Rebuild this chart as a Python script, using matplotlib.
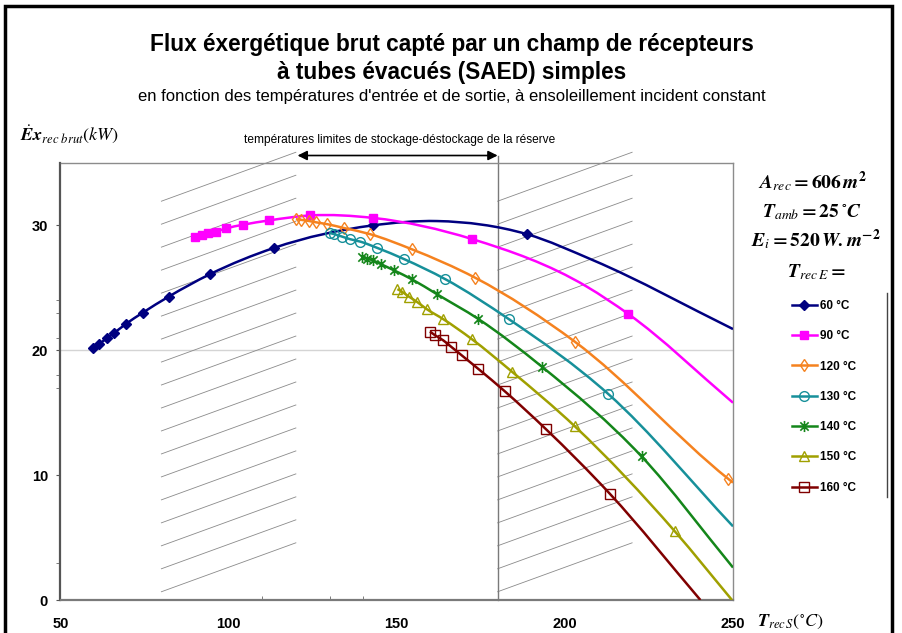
import numpy as np
import matplotlib
matplotlib.use('Agg')
import matplotlib.pyplot as plt
from matplotlib.path import Path
from matplotlib.patches import PathPatch, Rectangle
from matplotlib.lines import Line2D

plt.rcParams['font.family'] = ['Liberation Sans', 'DejaVu Sans']
plt.rcParams['mathtext.fontset'] = 'stix'

#==================================================================================================
#			DATA : exergy flux (kW) vs outlet temperature (C), one curve per inlet temperature
#==================================================================================================
t_in = [60, 90, 120, 130, 140, 150, 160]

#marked points
ts_60 = [59.8, 61.5, 63.9, 66.0, 69.4, 74.4, 82.2, 94.5, 113.5, 142.8, 188.7]
ex_60 = [20.2, 20.5, 21.0, 21.4, 22.1, 23.0, 24.3, 26.1, 28.2, 30.0, 29.3]
ts_90 = [90.0, 92.0, 94.0, 96.2, 99.2, 104.2, 112.0, 124.3, 143.0, 172.5, 218.9]
ex_90 = [29.07, 29.2, 29.36, 29.5, 29.76, 30.05, 30.4, 30.8, 30.6, 28.9, 22.9]
ts_120 = [120.0, 121.5, 124.0, 126.0, 129.3, 134.2, 142.1, 154.4, 173.4, 202.9, 248.6]
ex_120 = [30.5, 30.45, 30.35, 30.25, 30.1, 29.8, 29.3, 28.1, 25.8, 20.7, 9.7]
ts_130 = [130.0, 131.4, 133.8, 136.1, 139.2, 144.2, 152.2, 164.4, 183.3, 212.9]
ex_130 = [29.4, 29.3, 29.1, 28.9, 28.7, 28.2, 27.3, 25.7, 22.5, 16.5]
ts_140 = [139.6, 141.2, 142.9, 145.3, 149.2, 154.4, 161.9, 174.3, 193.1, 222.8]
ex_140 = [27.5, 27.35, 27.2, 26.9, 26.4, 25.7, 24.5, 22.5, 18.7, 11.5]
ts_150 = [150.2, 151.5, 153.6, 155.9, 158.9, 163.8, 172.3, 184.2, 203.0, 232.7]
ex_150 = [24.9, 24.7, 24.3, 23.9, 23.3, 22.5, 20.9, 18.3, 13.9, 5.5]
ts_160 = [159.9, 161.4, 163.8, 166.1, 169.3, 174.3, 182.2, 194.3, 213.4]
ex_160 = [21.5, 21.2, 20.8, 20.3, 19.6, 18.5, 16.7, 13.7, 8.5]

#extra points on the curves (no marker), up to the plot edge
tl_60 = [162.0, 208.5, 250.0]
el_60 = [30.35, 27.2, 21.7]
tl_90 = [206.5, 250.0]
el_90 = [25.1, 15.8]
tl_120 = [250.0]
el_120 = [9.4]
tl_130 = [250.0]
el_130 = [5.9]
tl_140 = [250.0]
el_140 = [2.6]
tl_150 = [249.7]
el_150 = [0.0]
tl_160 = [240.3]
el_160 = [0.0]

marks = [(ts_60, ex_60), (ts_90, ex_90), (ts_120, ex_120), (ts_130, ex_130),
         (ts_140, ex_140), (ts_150, ex_150), (ts_160, ex_160)]
tails = [(tl_60, el_60), (tl_90, el_90), (tl_120, el_120), (tl_130, el_130),
         (tl_140, el_140), (tl_150, el_150), (tl_160, el_160)]

#Colors and markers
colors = ['#000080', '#ff00ff', '#f5821f', '#17909a', '#14861a', '#a0a000', '#800000']
star = Path([(0, -1), (0, 1), (-0.75, -0.75), (0.75, 0.75), (-0.75, 0.75), (0.75, -0.75)],
            [Path.MOVETO, Path.LINETO] * 3)
mstyle = [dict(marker='D', ms=5, mfc=colors[0], mec=colors[0]),
          dict(marker='s', ms=6, mfc=colors[1], mec=colors[1]),
          dict(marker='d', ms=6.5, mfc='none', mec=colors[2], mew=1.0),
          dict(marker='o', ms=7, mfc='none', mec=colors[3], mew=1.0),
          dict(marker=star, ms=8, mfc='none', mec=colors[4], mew=1.2),
          dict(marker='^', ms=7, mfc='none', mec=colors[5], mew=1.0),
          dict(marker='s', ms=7, mfc='none', mec=colors[6], mew=1.0)]


def smooth_path(x, y):
    #piecewise cubic bezier through the points (excel-like smoothed line)
    order = np.argsort(x)
    x = np.asarray(x, float)[order]
    y = np.asarray(y, float)[order]
    n = len(x)
    h = np.diff(x)
    s = np.diff(y) / h
    m = np.empty(n)
    m[0], m[-1] = s[0], s[-1]
    m[1:-1] = (s[:-1] * h[1:] + s[1:] * h[:-1]) / (h[:-1] + h[1:])
    verts = [(x[0], y[0])]
    codes = [Path.MOVETO]
    for i in range(n - 1):
        d = h[i] / 3.
        verts += [(x[i] + d, y[i] + m[i] * d), (x[i + 1] - d, y[i + 1] - m[i + 1] * d), (x[i + 1], y[i + 1])]
        codes += [Path.CURVE4] * 3
    return Path(verts, codes)


#==================================================================================================
#			FIGURE
#==================================================================================================
W, H = 903., 633.
fig = plt.figure(figsize=(W / 100, H / 100), dpi=100)
ax = fig.add_axes([60.5 / W, 33 / H, 672.5 / W, 437 / H])
ax.set_xlim(50, 250)
ax.set_ylim(0, 35)

for sp in ['top', 'right']:
    ax.spines[sp].set_color('#8c8c8c')
    ax.spines[sp].set_linewidth(1.0)
ax.spines['left'].set_color('#555555')
ax.spines['left'].set_linewidth(1.6)
ax.spines['bottom'].set_color('#7a7a7a')
ax.spines['bottom'].set_linewidth(1.6)

ax.set_xticks([50, 100, 150, 200, 250])
ax.set_xticks([110, 130, 140], minor=True)
ax.set_yticks([0, 10, 20, 30])
ax.set_yticks([3, 17, 18, 21, 23, 24], minor=True)
ax.tick_params(axis='x', which='major', length=0, pad=12, labelsize=10.5)
ax.tick_params(axis='x', which='minor', length=3, direction='in', color='#666666')
ax.tick_params(axis='y', which='major', length=3, direction='out', pad=6, labelsize=10.5, color='#555555')
ax.tick_params(axis='y', which='minor', length=3, direction='out', color='#666666')
for lab in ax.get_xticklabels() + ax.get_yticklabels():
    lab.set_fontweight('bold')

ax.axhline(20, color='#d4d4d4', lw=1.0, zorder=0.5)

#hatched zones (stockage limits)
for x0 in (80, 180):
    for k in range(18):
        y0 = 0.66 + 1.84 * k
        ax.plot([x0, x0 + 40], [y0, y0 + 3.92], color='#8a8a8a', lw=0.6, clip_on=False, zorder=1)

ax.plot([180, 180], [0, 35.6], color='#7a7a7a', lw=1.0, clip_on=False, zorder=1)
ax.annotate('', xy=(180, 35.6), xytext=(120.5, 35.6), annotation_clip=False,
            arrowprops=dict(arrowstyle='<|-|>', color='black', lw=1.2, mutation_scale=14,
                            shrinkA=0, shrinkB=0))
fig.text(400 / W, 1 - 140 / H, u"températures limites de stockage-déstockage de la réserve",
         ha='center', va='center', fontsize=8.6)

#curves
handles = []
for i in range(len(t_in)):
    xm, ym = marks[i]
    xt, yt = tails[i]
    path = smooth_path(list(xm) + list(xt), list(ym) + list(yt))
    ax.add_patch(PathPatch(path, fill=False, ec=colors[i], lw=1.8, zorder=3 + i))
    ax.plot(xm, ym, ls='none', zorder=3.5 + i, **mstyle[i])
    handles.append(Line2D([], [], color=colors[i], lw=1.8, **mstyle[i]))

leg = fig.legend(handles, [u'%d \u00b0C' % t for t in t_in], loc='upper left',
                 bbox_to_anchor=(792 / W, 1 - 300 / H), bbox_transform=fig.transFigure,
                 frameon=False, borderpad=0, borderaxespad=0, handlelength=2.1,
                 handletextpad=0.3, labelspacing=1.55, prop=dict(size=8.5, weight='bold'))
fig.add_artist(Line2D([887 / W, 887 / W], [1 - 293 / H, 1 - 497 / H], color='#444444', lw=1.0))

#titles
fig.text(452 / W, 1 - 45 / H, u"Flux éxergétique brut capté par un champ de récepteurs",
         ha='center', va='center', fontsize=16.3, fontweight='bold')
fig.text(452 / W, 1 - 72 / H, u"à tubes évacués (SAED) simples",
         ha='center', va='center', fontsize=16.3, fontweight='bold')
fig.text(452 / W, 1 - 96 / H,
         u"en fonction des températures d'entrée et de sortie, à ensoleillement incident constant",
         ha='center', va='center', fontsize=12)

#axis labels and parameters
fig.text(20 / W, 1 - 135 / H, r'$\dot{\mathbfit{E}}\mathbfit{x}_{\mathit{rec\ brut}}(\mathit{kW})$',
         ha='left', va='center', fontsize=13)
fig.text(757 / W, 1 - 622 / H, r'$\mathbfit{T}_{\mathit{rec\,S}}(^{\circ}\mathit{C})$',
         ha='left', va='center', fontsize=13)
fig.text(812 / W, 1 - 182 / H, r'$\mathbfit{A}_{\mathit{rec}}\mathbf{=606}\,\mathbfit{m}^{\mathbf{2}}$',
         ha='center', va='center', fontsize=14)
fig.text(812 / W, 1 - 212 / H, r'$\mathbfit{T}_{\mathit{amb}}\mathbf{=25}\,^{\circ}\mathbfit{C}$',
         ha='center', va='center', fontsize=14)
fig.text(816 / W, 1 - 240 / H, r'$\mathbfit{E}_{\mathit{i}}\mathbf{=520}\,\mathbfit{W.m}^{\mathbf{-2}}$',
         ha='center', va='center', fontsize=14)
fig.text(816 / W, 1 - 272 / H, r'$\mathbfit{T}_{\mathit{rec\,E}}\mathbf{=}$',
         ha='center', va='center', fontsize=14)

#outer frame
fig.patches.append(Rectangle((5 / W, -0.05), 887 / W, 1.05 - 6 / H, transform=fig.transFigure,
                             fill=False, ec='black', lw=2.5))

plt.savefig('out.png', dpi=100)
